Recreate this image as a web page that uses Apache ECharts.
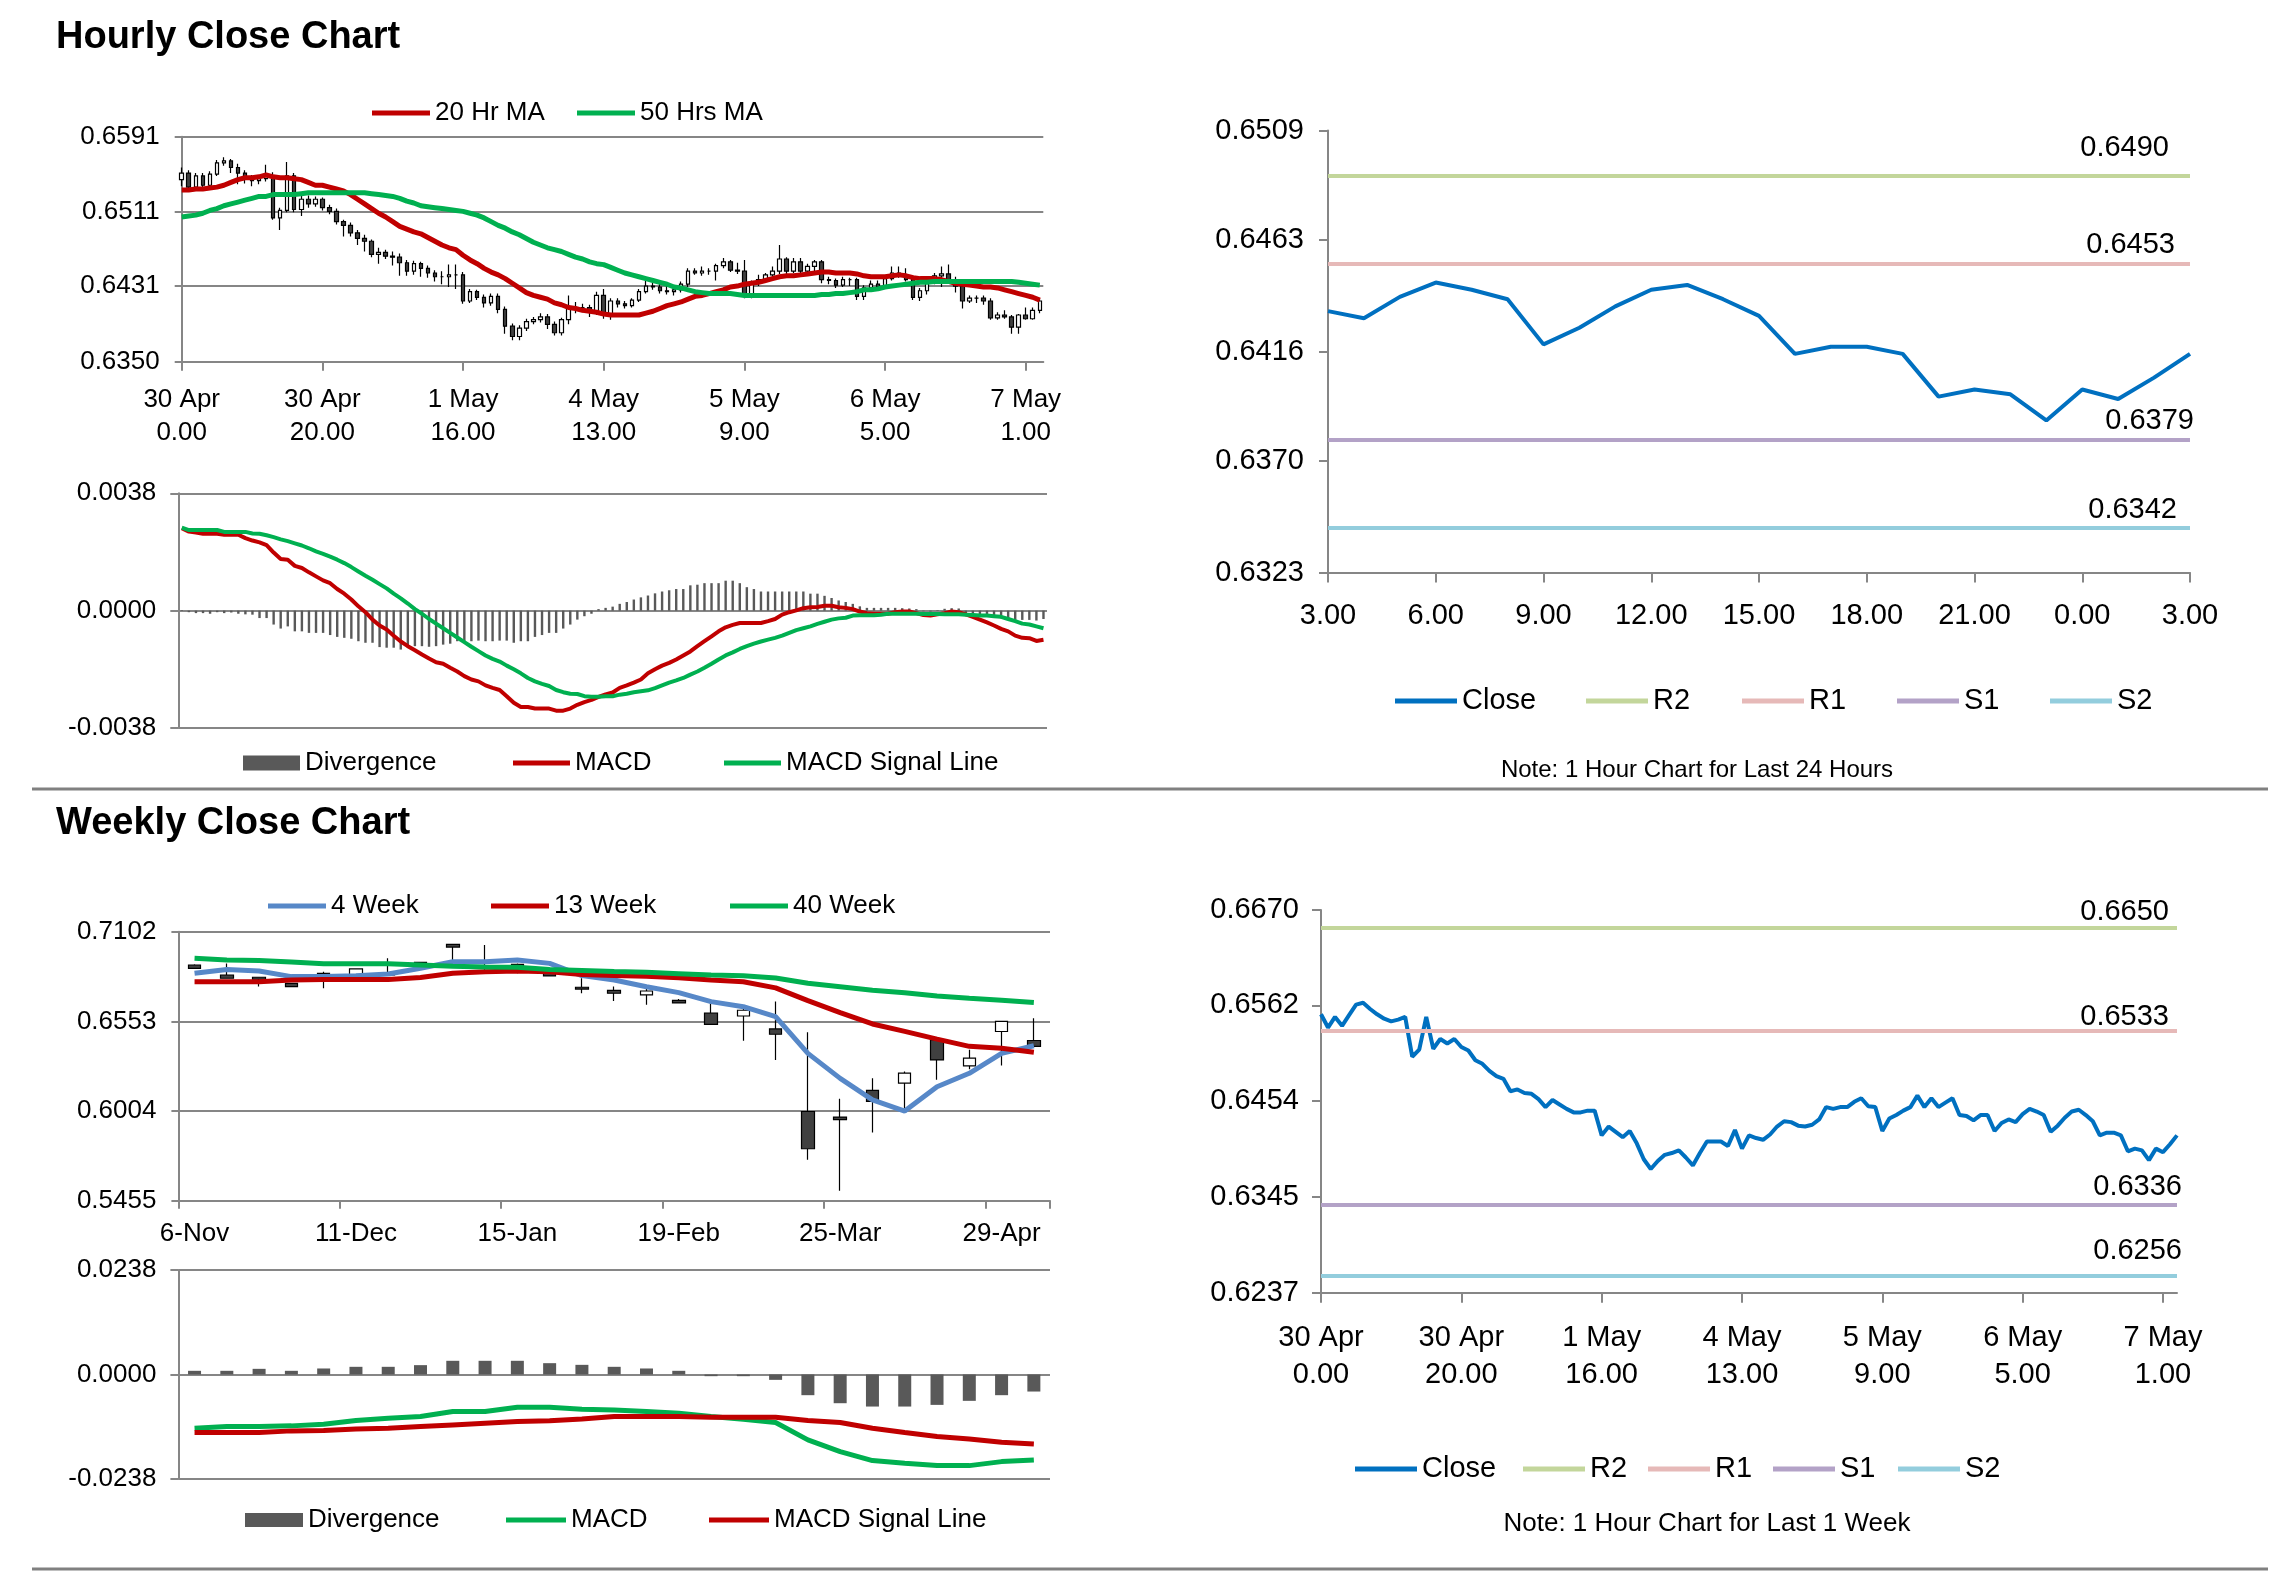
<!DOCTYPE html>
<html><head><meta charset="utf-8">
<script src="https://cdn.jsdelivr.net/npm/echarts@6/dist/echarts.min.js"></script>
<style>
html,body{margin:0;padding:0;background:#fff;width:2291px;height:1577px;overflow:hidden}
.layer{position:absolute;left:0;top:0;width:2291px;height:1577px}
</style>
</head><body>
<div id="c1" class="layer"></div>
<div id="c2" class="layer"></div>
<div id="c3" class="layer"></div>
<div id="c4" class="layer"></div>
<div id="c5" class="layer"></div>
<div id="c6" class="layer"></div>
<script>
// ---------- DATA ----------
const hourlyXTicks = ['30 Apr\n0.00','30 Apr\n20.00','1 May\n16.00','4 May\n13.00','5 May\n9.00','6 May\n5.00','7 May\n1.00'];
const hourTickIdx = [0,20,40,60,80,100,120];
const hourlyYTicks = [0.6350,0.6431,0.6511,0.6591];
const hourlyMacdTicks = [-0.0038,0,0.0038];
const ticks24 = [0.6323,0.6370,0.6416,0.6463,0.6509];
const weekRightTicks = [0.6237,0.6345,0.6454,0.6562,0.6670];
const weeklyYTicks = [0.5455,0.6004,0.6553,0.7102];
const weeklyMacdTicks = [-0.0238,0,0.0238];

const hours24 = ['3.00','4.00','5.00','6.00','7.00','8.00','9.00','10.00','11.00','12.00','13.00','14.00','15.00','16.00','17.00','18.00','19.00','20.00','21.00','22.00','23.00','0.00','1.00','2.00','3.00'];

const weekCats = ['6-Nov','13-Nov','20-Nov','27-Nov','4-Dec','11-Dec','18-Dec','25-Dec','1-Jan','8-Jan','15-Jan','22-Jan','29-Jan','5-Feb','12-Feb','19-Feb','26-Feb','4-Mar','11-Mar','18-Mar','25-Mar','1-Apr','8-Apr','15-Apr','22-Apr','29-Apr','6-May'];

const hourlyOpen = [
0.6545,0.6552,0.6537,0.6549,0.6539,0.6551,0.6563,0.6565,0.6558,0.6552,
0.6547,0.6544,0.6546,0.6549,0.6504,0.6512,0.6549,0.6513,0.6524,0.6519,
0.6524,0.6515,0.6511,0.6500,0.6496,0.6488,0.6482,0.6479,0.6465,0.6467,
0.6463,0.6462,0.6456,0.6447,0.6455,0.6450,0.6445,0.6441,0.6441,0.6443,
0.6443,0.6415,0.6425,0.6419,0.6413,0.6420,0.6406,0.6388,0.6377,0.6386,
0.6393,0.6395,0.6398,0.6390,0.6381,0.6395,0.6408,0.6408,0.6408,0.6403,
0.6421,0.6400,0.6415,0.6412,0.6410,0.6416,0.6425,0.6431,0.6430,0.6426,
0.6425,0.6427,0.6433,0.6447,0.6445,0.6447,0.6447,0.6453,0.6457,0.6448,
0.6447,0.6420,0.6434,0.6438,0.6443,0.6447,0.6460,0.6447,0.6457,0.6447,
0.6452,0.6457,0.6438,0.6437,0.6432,0.6438,0.6438,0.6420,0.6429,0.6433,
0.6430,0.6439,0.6445,0.6442,0.6438,0.6419,0.6426,0.6435,0.6442,0.6444,
0.6438,0.6431,0.6415,0.6418,0.6418,0.6415,0.6397,0.6400,0.6398,0.6387,
0.6400,0.6396,0.6405];
const hourlyClose = [
0.6552,0.6537,0.6549,0.6539,0.6551,0.6563,0.6565,0.6558,0.6552,0.6547,
0.6544,0.6546,0.6549,0.6504,0.6512,0.6549,0.6513,0.6524,0.6519,0.6524,
0.6515,0.6511,0.6500,0.6496,0.6488,0.6482,0.6479,0.6465,0.6467,0.6463,
0.6462,0.6456,0.6447,0.6455,0.6450,0.6445,0.6441,0.6441,0.6443,0.6443,
0.6415,0.6425,0.6419,0.6413,0.6420,0.6406,0.6388,0.6377,0.6386,0.6393,
0.6395,0.6398,0.6390,0.6381,0.6395,0.6408,0.6408,0.6408,0.6403,0.6421,
0.6400,0.6415,0.6412,0.6410,0.6416,0.6425,0.6431,0.6430,0.6426,0.6425,
0.6427,0.6433,0.6447,0.6445,0.6447,0.6447,0.6453,0.6457,0.6448,0.6447,
0.6420,0.6434,0.6438,0.6443,0.6447,0.6460,0.6447,0.6457,0.6447,0.6452,
0.6457,0.6438,0.6437,0.6432,0.6438,0.6438,0.6420,0.6429,0.6433,0.6430,
0.6439,0.6445,0.6442,0.6438,0.6419,0.6426,0.6435,0.6442,0.6444,0.6438,
0.6431,0.6415,0.6418,0.6418,0.6415,0.6397,0.6400,0.6398,0.6387,0.6400,
0.6396,0.6405,0.6415];
const hourlyHigh = [
0.6558,0.6555,0.6552,0.6552,0.6554,0.6566,0.6569,0.6567,0.6562,0.6555,
0.6550,0.6549,0.6561,0.6553,0.6515,0.6564,0.6552,0.6530,0.6528,0.6527,
0.6526,0.6518,0.6514,0.6502,0.6499,0.6491,0.6486,0.6481,0.6472,0.6470,
0.6468,0.6466,0.6459,0.6458,0.6457,0.6453,0.6448,0.6447,0.6454,0.6454,
0.6446,0.6428,0.6427,0.6422,0.6423,0.6423,0.6409,0.6391,0.6389,0.6396,
0.6398,0.6402,0.6401,0.6393,0.6397,0.6421,0.6414,0.6412,0.6411,0.6425,
0.6428,0.6418,0.6418,0.6415,0.6418,0.6428,0.6438,0.6436,0.6434,0.6432,
0.6430,0.6436,0.6450,0.6450,0.6452,0.6450,0.6455,0.6461,0.6459,0.6456,
0.6459,0.6437,0.6443,0.6445,0.6452,0.6475,0.6462,0.6461,0.6461,0.6455,
0.6459,0.6459,0.6441,0.6439,0.6441,0.6440,0.6440,0.6432,0.6437,0.6437,
0.6441,0.6452,0.6452,0.6450,0.6440,0.6429,0.6437,0.6445,0.6452,0.6454,
0.6441,0.6433,0.6421,0.6421,0.6421,0.6418,0.6403,0.6405,0.6400,0.6401,
0.6408,0.6408,0.6418];
const hourlyLow = [
0.6538,0.6533,0.6535,0.6536,0.6537,0.6549,0.6560,0.6552,0.6540,0.6541,
0.6538,0.6540,0.6543,0.6502,0.6491,0.6510,0.6510,0.6506,0.6515,0.6516,
0.6512,0.6508,0.6497,0.6484,0.6484,0.6475,0.6468,0.6462,0.6455,0.6460,
0.6453,0.6442,0.6442,0.6443,0.6441,0.6440,0.6436,0.6433,0.6430,0.6428,
0.6412,0.6413,0.6416,0.6408,0.6410,0.6402,0.6380,0.6373,0.6373,0.6383,
0.6390,0.6392,0.6385,0.6378,0.6378,0.6390,0.6402,0.6403,0.6398,0.6400,
0.6396,0.6395,0.6408,0.6407,0.6408,0.6414,0.6423,0.6427,0.6423,0.6422,
0.6421,0.6424,0.6430,0.6443,0.6442,0.6443,0.6437,0.6450,0.6446,0.6444,
0.6418,0.6418,0.6431,0.6436,0.6441,0.6444,0.6444,0.6445,0.6444,0.6444,
0.6447,0.6434,0.6433,0.6429,0.6430,0.6431,0.6416,0.6416,0.6427,0.6428,
0.6428,0.6437,0.6440,0.6436,0.6416,0.6415,0.6422,0.6433,0.6430,0.6436,
0.6424,0.6407,0.6413,0.6413,0.6411,0.6395,0.6395,0.6396,0.6380,0.6380,
0.6395,0.6395,0.6402];
const ma20 = [
0.6534,0.6534,0.6535,0.6535,0.6536,0.6537,0.6539,0.6542,0.6545,0.6547,
0.6547,0.6548,0.6550,0.6548,0.6547,0.6547,0.6546,0.6545,0.6542,0.6539,
0.6539,0.6537,0.6535,0.6533,0.6529,0.6524,0.6519,0.6514,0.6509,0.6505,
0.6500,0.6495,0.6492,0.6489,0.6487,0.6483,0.6479,0.6475,0.6472,0.6470,
0.6464,0.6459,0.6455,0.6450,0.6446,0.6443,0.6439,0.6434,0.6429,0.6424,
0.6421,0.6419,0.6417,0.6413,0.6411,0.6408,0.6407,0.6405,0.6404,0.6403,
0.6401,0.6400,0.6400,0.6400,0.6400,0.6400,0.6402,0.6404,0.6407,0.6410,
0.6412,0.6414,0.6417,0.6420,0.6421,0.6423,0.6425,0.6427,0.6430,0.6431,
0.6433,0.6434,0.6435,0.6437,0.6439,0.6441,0.6442,0.6442,0.6443,0.6444,
0.6445,0.6446,0.6446,0.6445,0.6445,0.6445,0.6444,0.6442,0.6441,0.6441,
0.6441,0.6442,0.6443,0.6442,0.6440,0.6439,0.6439,0.6439,0.6438,0.6436,
0.6434,0.6433,0.6432,0.6431,0.6430,0.6430,0.6429,0.6427,0.6425,0.6423,
0.6421,0.6419,0.6416];
const ma50 = [
0.6505,0.6506,0.6507,0.6509,0.6512,0.6514,0.6517,0.6519,0.6521,0.6523,
0.6525,0.6527,0.6527,0.6529,0.6529,0.6529,0.6529,0.6530,0.6531,0.6531,
0.6531,0.6531,0.6531,0.6531,0.6531,0.6531,0.6531,0.6530,0.6529,0.6528,
0.6527,0.6525,0.6522,0.6520,0.6517,0.6516,0.6515,0.6514,0.6513,0.6512,
0.6511,0.6509,0.6507,0.6504,0.6500,0.6496,0.6493,0.6489,0.6486,0.6482,
0.6478,0.6475,0.6472,0.6470,0.6468,0.6465,0.6462,0.6460,0.6457,0.6455,
0.6454,0.6451,0.6448,0.6445,0.6443,0.6441,0.6439,0.6437,0.6435,0.6433,
0.6430,0.6429,0.6427,0.6425,0.6424,0.6423,0.6423,0.6423,0.6423,0.6422,
0.6421,0.6421,0.6421,0.6421,0.6421,0.6421,0.6421,0.6421,0.6421,0.6421,
0.6421,0.6422,0.6422,0.6423,0.6423,0.6424,0.6425,0.6427,0.6427,0.6428,
0.6430,0.6431,0.6432,0.6433,0.6434,0.6435,0.6435,0.6436,0.6436,0.6436,
0.6436,0.6436,0.6436,0.6436,0.6436,0.6436,0.6436,0.6436,0.6436,0.6435,
0.6434,0.6433,0.6432];
const hourlyMacd = [
0.00267,0.00256,0.00253,0.00249,0.00249,0.00249,0.00246,0.00246,0.00246,0.00235,
0.00227,0.00221,0.00212,0.00188,0.00167,0.00165,0.00145,0.00138,0.00124,0.00111,
0.00098,0.00089,0.00070,0.00055,0.00036,0.00014,-0.00005,-0.00029,-0.00048,-0.00061,
-0.00081,-0.00100,-0.00115,-0.00128,-0.00142,-0.00155,-0.00167,-0.00172,-0.00185,-0.00197,
-0.00212,-0.00223,-0.00229,-0.00242,-0.00250,-0.00257,-0.00277,-0.00298,-0.00312,-0.00312,
-0.00317,-0.00317,-0.00317,-0.00324,-0.00324,-0.00317,-0.00305,-0.00296,-0.00289,-0.00279,
-0.00271,-0.00265,-0.00250,-0.00242,-0.00233,-0.00223,-0.00203,-0.00190,-0.00178,-0.00169,
-0.00158,-0.00145,-0.00132,-0.00115,-0.00099,-0.00083,-0.00067,-0.00054,-0.00046,-0.00040,
-0.00040,-0.00040,-0.00040,-0.00034,-0.00027,-0.00013,-0.00005,0.00001,0.00008,0.00011,
0.00012,0.00016,0.00016,0.00011,0.00009,0.00005,-0.00003,-0.00008,-0.00010,-0.00010,
-0.00010,-0.00005,-0.00003,-0.00003,-0.00008,-0.00014,-0.00016,-0.00012,-0.00008,-0.00003,
-0.00005,-0.00012,-0.00020,-0.00029,-0.00038,-0.00048,-0.00059,-0.00067,-0.00081,-0.00088,
-0.00089,-0.00098,-0.00094];
const hourlySignal = [
0.00269,0.00261,0.00261,0.00261,0.00261,0.00261,0.00255,0.00255,0.00255,0.00255,
0.00250,0.00249,0.00244,0.00238,0.00231,0.00225,0.00218,0.00211,0.00202,0.00192,
0.00184,0.00175,0.00165,0.00154,0.00141,0.00127,0.00113,0.00100,0.00086,0.00072,
0.00055,0.00040,0.00023,0.00005,-0.00010,-0.00027,-0.00042,-0.00057,-0.00072,-0.00087,
-0.00102,-0.00117,-0.00131,-0.00145,-0.00156,-0.00165,-0.00178,-0.00190,-0.00203,-0.00218,
-0.00229,-0.00237,-0.00244,-0.00257,-0.00264,-0.00269,-0.00270,-0.00277,-0.00279,-0.00279,
-0.00277,-0.00277,-0.00272,-0.00269,-0.00264,-0.00261,-0.00258,-0.00251,-0.00242,-0.00233,
-0.00226,-0.00218,-0.00207,-0.00197,-0.00185,-0.00172,-0.00158,-0.00145,-0.00135,-0.00124,
-0.00115,-0.00107,-0.00100,-0.00094,-0.00088,-0.00081,-0.00072,-0.00063,-0.00057,-0.00051,
-0.00043,-0.00036,-0.00029,-0.00025,-0.00023,-0.00016,-0.00015,-0.00015,-0.00015,-0.00013,
-0.00010,-0.00010,-0.00010,-0.00010,-0.00010,-0.00011,-0.00011,-0.00011,-0.00012,-0.00012,
-0.00012,-0.00013,-0.00014,-0.00016,-0.00016,-0.00018,-0.00020,-0.00027,-0.00034,-0.00042,
-0.00045,-0.00051,-0.00057];
const hourlyDiv = [
0.00002,-0.00005,-0.00008,-0.00008,-0.00010,-0.00005,-0.00008,-0.00006,-0.00010,-0.00012,
-0.00013,-0.00024,-0.00024,-0.00045,-0.00058,-0.00051,-0.00067,-0.00067,-0.00072,-0.00072,
-0.00072,-0.00079,-0.00085,-0.00088,-0.00091,-0.00099,-0.00104,-0.00104,-0.00118,-0.00120,
-0.00120,-0.00126,-0.00120,-0.00115,-0.00115,-0.00117,-0.00115,-0.00110,-0.00107,-0.00099,
-0.00101,-0.00099,-0.00097,-0.00099,-0.00099,-0.00097,-0.00097,-0.00104,-0.00099,-0.00099,
-0.00085,-0.00079,-0.00072,-0.00072,-0.00058,-0.00045,-0.00029,-0.00018,-0.00010,0.00005,
0.00009,0.00013,0.00022,0.00028,0.00036,0.00043,0.00049,0.00056,0.00062,0.00066,
0.00070,0.00070,0.00082,0.00084,0.00089,0.00089,0.00089,0.00097,0.00097,0.00089,
0.00076,0.00070,0.00062,0.00062,0.00062,0.00062,0.00062,0.00062,0.00062,0.00055,
0.00055,0.00048,0.00041,0.00033,0.00028,0.00022,0.00014,0.00009,0.00009,0.00009,
0.00009,0.00009,0.00008,0.00007,0.00005,-0.00002,-0.00003,0.00002,0.00006,0.00008,
0.00007,-0.00008,-0.00011,-0.00016,-0.00019,-0.00022,-0.00025,-0.00030,-0.00030,-0.00030,
-0.00030,-0.00032,-0.00027];

const levels24 = {R2:0.6490, R1:0.6453, S1:0.6379, S2:0.6342};
const levelsWeek = {R2:0.6650, R1:0.6533, S1:0.6336, S2:0.6256};

const weeklyOpen  = [0.6898,0.6837,0.6823,0.6786,0.6847,0.6837,0.6837,0.6914,0.7025,0.6888,0.6902,0.6847,0.6762,0.6743,0.6715,0.6682,0.6603,0.6586,0.6507,0.6001,0.5967,0.6130,0.6175,0.6440,0.6281,0.6491,0.6436];
const weeklyClose = [0.6878,0.6817,0.6811,0.6766,0.6827,0.6874,0.6847,0.6902,0.7008,0.6878,0.6888,0.6831,0.6751,0.6725,0.6739,0.6666,0.6535,0.6621,0.6474,0.5773,0.5951,0.6063,0.6236,0.6317,0.6328,0.6553,0.6400];
const weeklyLow   = [0.6874,0.6815,0.6766,0.6764,0.6756,0.6832,0.6835,0.6898,0.6929,0.6868,0.6847,0.6827,0.6725,0.6678,0.6654,0.6662,0.6535,0.6434,0.6317,0.5706,0.5516,0.5873,0.6006,0.6195,0.6260,0.6283,0.6395];
const weeklyHigh  = [0.6902,0.6908,0.6826,0.6788,0.6857,0.6878,0.6939,0.6918,0.7027,0.7021,0.6908,0.6857,0.6817,0.6766,0.6755,0.6690,0.6690,0.6633,0.6674,0.6487,0.6079,0.6205,0.6246,0.6450,0.6379,0.6553,0.6572];
const wk4  = [0.6847,0.6871,0.6861,0.6827,0.6827,0.6833,0.6843,0.6878,0.6918,0.6918,0.6929,0.6908,0.6833,0.6806,0.6765,0.6729,0.6674,0.6643,0.6582,0.6357,0.6204,0.6072,0.6004,0.6153,0.6235,0.6357,0.6404];
const wk13 = [0.6796,0.6796,0.6796,0.6806,0.6810,0.6810,0.6810,0.6822,0.6847,0.6857,0.6862,0.6857,0.6840,0.6834,0.6829,0.6820,0.6806,0.6796,0.6758,0.6680,0.6607,0.6537,0.6492,0.6444,0.6400,0.6388,0.6364];
const wk40 = [0.6939,0.6929,0.6925,0.6916,0.6906,0.6906,0.6906,0.6898,0.6890,0.6886,0.6884,0.6870,0.6865,0.6858,0.6853,0.6845,0.6837,0.6833,0.6819,0.6786,0.6765,0.6743,0.6728,0.6709,0.6694,0.6683,0.6668];
const weeklyMacd   = [-0.01224,-0.01186,-0.01186,-0.01170,-0.01132,-0.01049,-0.00996,-0.00958,-0.00844,-0.00844,-0.00745,-0.00745,-0.00790,-0.00806,-0.00844,-0.00882,-0.00958,-0.01018,-0.01094,-0.01490,-0.01756,-0.01961,-0.02022,-0.02075,-0.02075,-0.01984,-0.01946];
const weeklySignal = [-0.01322,-0.01322,-0.01322,-0.01284,-0.01277,-0.01239,-0.01224,-0.01186,-0.01148,-0.01110,-0.01072,-0.01056,-0.01011,-0.00958,-0.00958,-0.00958,-0.00973,-0.00973,-0.00973,-0.01049,-0.01094,-0.01224,-0.01322,-0.01414,-0.01467,-0.01543,-0.01581];
const weeklyDiv    = [0.00084,0.00084,0.00129,0.00084,0.00137,0.00175,0.00175,0.00213,0.00312,0.00312,0.00312,0.00258,0.00220,0.00175,0.00137,0.00084,-0.00038,-0.00038,-0.00122,-0.00471,-0.00654,-0.00730,-0.00730,-0.00692,-0.00600,-0.00471,-0.00388];

// ---------- STYLE HELPERS ----------
const FONT = '"Liberation Sans", Arial, Helvetica, sans-serif';
const AX = '#868686';
const RED = '#C00000', GREEN = '#00B050', BLUE4 = '#5788C8', CLOSE = '#0070C0';
const LV = {R2:'#C3D69B', R1:'#E6B9B8', S1:'#B3A2C7', S2:'#93CDDD'};
const axLine = {show:true, onZero:false, lineStyle:{color:AX, width:2}};
const pairs = arr => arr.map((v,i) => [i, v]);

function legendItem(name, left, cy, w, h, fs){
  return {show:true, data:[{name:name, icon:'rect'}], left:left, top:cy - fs/2, itemWidth:w, itemHeight:h,
    padding:0, itemGap:0, selectedMode:false, orient:'horizontal',
    textStyle:{fontSize:fs, fontFamily:FONT, color:'#000', lineHeight:fs}};
}
function grid(l,t,w,h){ return {left:l, top:t, width:w, height:h, containLabel:false, outerBoundsMode:'none'}; }
function yVal(min,max,ticks,fs,margin,tickLen,split){
  return {type:'value', min:min, max:max, axisLine:axLine,
    axisTick:{show:true, customValues:ticks, length:tickLen, lineStyle:{color:AX, width:2}},
    axisLabel:{show:true, customValues:ticks, formatter:v => Number(v).toFixed(4), fontSize:fs, fontFamily:FONT, color:'#000', margin:margin},
    splitLine:{show:split, lineStyle:{color:AX, width:2}}};
}
function lineS(name, data, color, width){
  return {type:'line', name:name, data:data, symbol:'none', showSymbol:false, color:color,
    itemStyle:{color:color}, lineStyle:{color:color, width:width}, z:3, silent:true};
}
function levelS(name, value, color, fs, off){
  return {type:'line', name:name, data:[], color:color, itemStyle:{color:color}, lineStyle:{color:color, width:4},
    markLine:{silent:true, symbol:['none','none'], animation:false, precision:4,
      data:[{yAxis:value}],
      lineStyle:{color:color, width:4, type:'solid'},
      label:{show:true, position:'insideEndTop', distance:4, offset:off, formatter:p => Number(p.value).toFixed(4),
        fontSize:fs, fontFamily:FONT, color:'#000'}}};
}
const candleStyle = {color:'#ffffff', color0:'#404040', borderColor:'#000000', borderColor0:'#000000', borderColorDoji:'#000000', borderWidth:1.2};

// ---------- CHART 1: hourly candles ----------
const c1 = echarts.init(document.getElementById('c1'));
c1.setOption({
  animation:false, textStyle:{fontFamily:FONT},
  grid: grid(181.7,136.7,861.6,225),
  legend:[legendItem('20 Hr MA',372,113,58,5,26), legendItem('50 Hrs MA',577,113,58,5,26)],
  xAxis:{type:'value', min:0, max:122.5, axisLine:axLine,
    axisTick:{show:true, customValues:hourTickIdx, length:9, lineStyle:{color:AX, width:2}},
    axisLabel:{show:true, customValues:hourTickIdx, formatter:v => hourlyXTicks[Math.round(v/20)] || '',
      fontSize:26, lineHeight:33, margin:22, color:'#000', fontFamily:FONT},
    splitLine:{show:false}},
  yAxis: yVal(0.6350,0.6591,hourlyYTicks,26,22,7,true),
  series:[
    {type:'candlestick', name:'Price', barWidth:4, itemStyle:candleStyle, silent:true,
     data: hourlyOpen.map((o,i) => [i, o, hourlyClose[i], hourlyLow[i], hourlyHigh[i]]),
     encode:{x:0, y:[1,2,3,4]}},
    lineS('20 Hr MA', pairs(ma20), RED, 5),
    lineS('50 Hrs MA', pairs(ma50), GREEN, 5)
  ]
});

// ---------- CHART 2: hourly MACD ----------
const c2 = echarts.init(document.getElementById('c2'));
c2.setOption({
  animation:false, textStyle:{fontFamily:FONT},
  grid: grid(178.3,493.3,868.7,234.7),
  legend:[legendItem('Divergence',243,763,57,15,26), legendItem('MACD',513,763,57,5,26), legendItem('MACD Signal Line',724,763,57,5,26)],
  xAxis:{type:'value', min:-0.5, max:122.5, axisLine:{show:false}, axisTick:{show:false}, axisLabel:{show:false}, splitLine:{show:false}},
  yAxis: yVal(-0.0038,0.0038,hourlyMacdTicks,26,22,8,true),
  series:[
    {type:'bar', name:'Divergence', data:pairs(hourlyDiv), barWidth:2.4, color:'#595959', itemStyle:{color:'#595959'}, silent:true},
    lineS('MACD', pairs(hourlyMacd), RED, 4),
    lineS('MACD Signal Line', pairs(hourlySignal), GREEN, 4)
  ]
});

// ---------- CHART 3: last 24 hours ----------
const close24 = hourlyClose.slice(98);
const c3 = echarts.init(document.getElementById('c3'));
c3.setOption({
  animation:false, textStyle:{fontFamily:FONT},
  grid: grid(1328,130.5,862,442),
  legend:[legendItem('Close',1395,701,62,5,29), legendItem('R2',1586,701,62,5,29), legendItem('R1',1742,701,62,5,29),
          legendItem('S1',1897,701,62,5,29), legendItem('S2',2050,701,62,5,29)],
  xAxis:{type:'category', data:hours24, boundaryGap:false, axisLine:axLine,
    axisTick:{show:true, interval:2, length:10, lineStyle:{color:AX, width:2}},
    axisLabel:{interval:2, fontSize:29, margin:29, color:'#000', fontFamily:FONT}, splitLine:{show:false}},
  yAxis: yVal(0.6323,0.6509,ticks24,29,24,9,false),
  series:[
    lineS('Close', close24, CLOSE, 4),
    levelS('R2', levels24.R2, LV.R2, 29, [-17,-9]), levelS('R1', levels24.R1, LV.R1, 29, [-11,0]),
    levelS('S1', levels24.S1, LV.S1, 29, [8,0]), levelS('S2', levels24.S2, LV.S2, 29, [-9,1])
  ]
});

// ---------- CHART 4: weekly candles ----------
const c4 = echarts.init(document.getElementById('c4'));
c4.setOption({
  animation:false, textStyle:{fontFamily:FONT},
  grid: grid(178.4,931.7,871.6,269),
  legend:[legendItem('4 Week',268,906,58,5,26), legendItem('13 Week',491,906,58,5,26), legendItem('40 Week',730,906,58,5,26)],
  xAxis:{type:'category', data:weekCats, boundaryGap:true, axisLine:axLine,
    axisTick:{show:true, interval:4, length:8, lineStyle:{color:AX, width:2}},
    axisLabel:{interval:4, fontSize:26, margin:20, color:'#000', fontFamily:FONT}, splitLine:{show:false}},
  yAxis: yVal(0.5455,0.7102,weeklyYTicks,26,22,7,true),
  series:[
    {type:'candlestick', name:'Weekly', barWidth:13, itemStyle:candleStyle, silent:true,
     data: weeklyOpen.map((o,k) => [o, weeklyClose[k], weeklyLow[k], weeklyHigh[k]])},
    lineS('4 Week', wk4, BLUE4, 5),
    lineS('13 Week', wk13, RED, 5),
    lineS('40 Week', wk40, GREEN, 5)
  ]
});

// ---------- CHART 5: weekly MACD ----------
const c5 = echarts.init(document.getElementById('c5'));
c5.setOption({
  animation:false, textStyle:{fontFamily:FONT},
  grid: grid(178.4,1270,871.6,209),
  legend:[legendItem('Divergence',245,1520,58,14,26), legendItem('MACD',506,1520,60,5,26), legendItem('MACD Signal Line',709,1520,60,5,26)],
  xAxis:{type:'category', data:weekCats, boundaryGap:true, axisLine:{show:false}, axisTick:{show:false}, axisLabel:{show:false}, splitLine:{show:false}},
  yAxis: yVal(-0.0238,0.0238,weeklyMacdTicks,26,22,8,true),
  series:[
    {type:'bar', name:'Divergence', data:weeklyDiv, barWidth:13, color:'#595959', itemStyle:{color:'#595959'}, silent:true},
    lineS('MACD', weeklyMacd, GREEN, 5),
    lineS('MACD Signal Line', weeklySignal, RED, 5)
  ]
});

// ---------- CHART 6: last week hourly close ----------
const c6 = echarts.init(document.getElementById('c6'));
const titleFont = 'bold 38px "Liberation Sans", Arial, sans-serif';
c6.setOption({
  animation:false, textStyle:{fontFamily:FONT},
  grid: grid(1321,910,856,382.7),
  legend:[legendItem('Close',1355,1469,62,5,29), legendItem('R2',1523,1469,62,5,29), legendItem('R1',1648,1469,62,5,29),
          legendItem('S1',1773,1469,62,5,29), legendItem('S2',1898,1469,62,5,29)],
  xAxis:{type:'value', min:0, max:122, axisLine:axLine,
    axisTick:{show:true, customValues:hourTickIdx, length:10, lineStyle:{color:AX, width:2}},
    axisLabel:{show:true, customValues:hourTickIdx, formatter:v => hourlyXTicks[Math.round(v/20)] || '',
      fontSize:29, lineHeight:37, margin:27, color:'#000', fontFamily:FONT},
    splitLine:{show:false}},
  yAxis: yVal(0.6237,0.6670,weekRightTicks,29,22,9,false),
  series:[
    lineS('Close', pairs(hourlyClose), CLOSE, 4),
    levelS('R2', levelsWeek.R2, LV.R2, 29, [-4,3]), levelS('R1', levelsWeek.R1, LV.R1, 29, [-4,4]),
    levelS('S1', levelsWeek.S1, LV.S1, 29, [9,0]), levelS('S2', levelsWeek.S2, LV.S2, 29, [9,-6])
  ],
  graphic:[
    {type:'text', x:56, y:38, silent:true, style:{text:'Hourly Close Chart', font:titleFont, fill:'#000', align:'left', verticalAlign:'middle'}},
    {type:'text', x:56, y:824, silent:true, style:{text:'Weekly Close Chart', font:titleFont, fill:'#000', align:'left', verticalAlign:'middle'}},
    {type:'text', x:1697, y:770, silent:true, style:{text:'Note: 1 Hour Chart for Last 24 Hours', font:'24px "Liberation Sans", Arial, sans-serif', fill:'#000', align:'center', verticalAlign:'middle'}},
    {type:'text', x:1707, y:1524, silent:true, style:{text:'Note: 1 Hour Chart for Last 1 Week', font:'26px "Liberation Sans", Arial, sans-serif', fill:'#000', align:'center', verticalAlign:'middle'}},
    {type:'line', silent:true, shape:{x1:32, y1:789, x2:2268, y2:789}, style:{stroke:'#808080', lineWidth:3}},
    {type:'line', silent:true, shape:{x1:32, y1:1569, x2:2268, y2:1569}, style:{stroke:'#808080', lineWidth:3}}
  ]
});
</script>
</body></html>
